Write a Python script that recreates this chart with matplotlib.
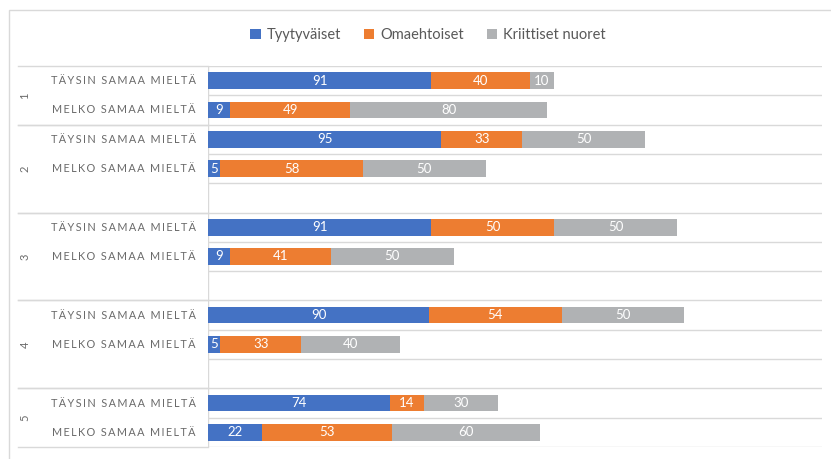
import matplotlib
matplotlib.use("Agg")
import matplotlib.pyplot as plt
import matplotlib.transforms as mtransforms
from matplotlib.patches import Rectangle, Patch
from matplotlib.lines import Line2D

groups = ['1', '2', '3', '4', '5']
row_labels = ['TÄYSIN SAMAA MIELTÄ', 'MELKO SAMAA MIELTÄ']
series_names = ['Tyytyväiset', 'Omaehtoiset', 'Kriittiset nuoret']
tyytyvaiset = [91, 9, 95, 5, 91, 9, 90, 5, 74, 22]
omaehtoiset = [40, 49, 33, 58, 50, 41, 54, 33, 14, 53]
kriittiset = [10, 80, 50, 50, 50, 50, 50, 40, 30, 60]

colors = ['#4472C4', '#ED7D31', '#B0B2B4']
gap_after = [False, True, True, True, False]  # empty slot after group

W, H = 831, 459
fig = plt.figure(figsize=(W / 100, H / 100), dpi=100)
FONT = ['Lato', 'DejaVu Sans']

ax_l, ax_r, ax_t, ax_b = 208, 822, 66, 447
ax = fig.add_axes([ax_l / W, 1 - ax_b / H, (ax_r - ax_l) / W, (ax_b - ax_t) / H])

# slot positions
positions = []
group_bounds = []
slot = 0
for g in range(len(groups)):
    start = slot
    for r in range(len(row_labels)):
        positions.append(slot)
        slot += 1
    if gap_after[g]:
        slot += 1
    group_bounds.append((start - 0.5, slot - 0.5))
nslots = slot

ax.set_ylim(nslots - 0.5, -0.5)
ax.set_xlim(0, 250)
for s in ax.spines.values():
    s.set_visible(False)
ax.set_xticks([])
ax.set_yticks([])

grid_c = '#D9D9D9'
for b in range(nslots + 1):
    ax.axhline(b - 0.5, color=grid_c, lw=1, zorder=0)
ax.axvline(0, color=grid_c, lw=1, zorder=0)

left = [0] * len(tyytyvaiset)
for vals, col in zip([tyytyvaiset, omaehtoiset, kriittiset], colors):
    ax.barh(positions, vals, left=left, height=0.57, color=col, zorder=2)
    for p, v, l in zip(positions, vals, left):
        ax.text(l + v / 2, p, str(v), ha='center', va='center', color='white',
                fontsize=9.5, family=FONT, zorder=3)
    left = [a + b for a, b in zip(left, vals)]

# labels in left area
trans = mtransforms.blended_transform_factory(fig.transFigure, ax.transData)
sp = '\u2009'
for i, p in enumerate(positions):
    lab = row_labels[i % 2]
    spaced = sp.join(list(lab))
    fig.text(196 / W, p, spaced, transform=trans, ha='right', va='center',
             fontsize=7.8, color='#6A6A6A', family=FONT)

for g, (y0, y1) in enumerate(group_bounds):
    fig.text(25 / W, (y0 + y1) / 2, groups[g], transform=trans, ha='center', va='center',
             rotation=90, fontsize=8, color='#6A6A6A', family=FONT)
    for yb in (y0, y1):
        fig.add_artist(Line2D([18 / W, ax_l / W], [yb, yb], transform=trans,
                              color=grid_c, lw=1))

# outer chart border
fig.add_artist(Rectangle((9 / W, -0.1), 1.2, 1 - 10 / H + 0.1, transform=fig.transFigure,
                         fill=False, edgecolor='#D9D9D9', lw=1))

handles = [Patch(facecolor=c, edgecolor='none') for c in colors]
fig.legend(handles, series_names, loc='center', bbox_to_anchor=(428 / W, 1 - 35 / H),
           ncol=3, frameon=False, handlelength=0.7, handleheight=0.7,
           handletextpad=0.4, columnspacing=1.6,
           prop={'family': FONT, 'size': 10.5}, labelcolor='#595959')

fig.savefig('out.png', dpi=100)
